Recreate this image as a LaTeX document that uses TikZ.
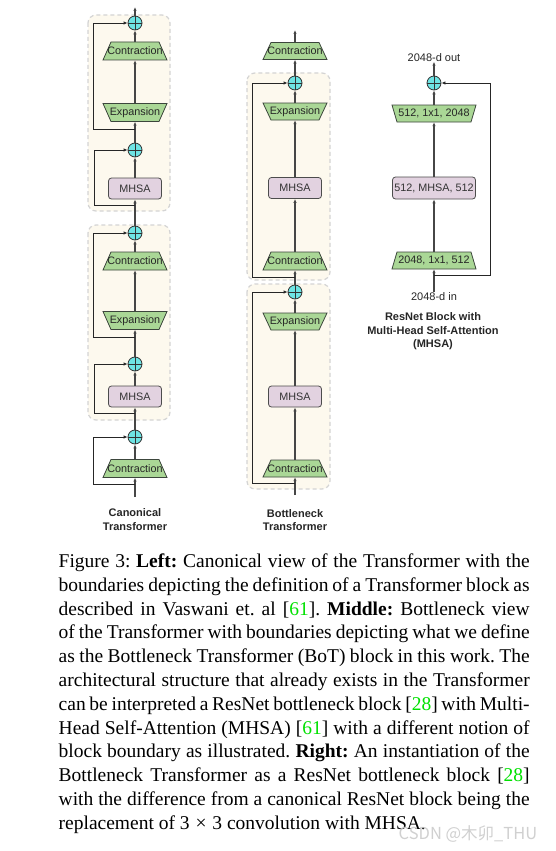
\documentclass[tikz,border=0pt]{standalone}
\usepackage{fontspec}
\setmainfont{Liberation Serif}
\setsansfont{Liberation Sans}
\newfontfamily\cjkfont{Noto Sans CJK SC}
\usetikzlibrary{arrows.meta,calc}
\frenchspacing
\definecolor{trapgreen}{RGB}{170,215,150}
\definecolor{trapedge}{RGB}{60,70,60}
\definecolor{mhsafill}{RGB}{226,210,224}
\definecolor{addfill}{RGB}{110,228,228}
\definecolor{blockfill}{RGB}{253,249,238}
\definecolor{blockedge}{RGB}{212,212,212}
\definecolor{citegreen}{RGB}{0,225,0}
\definecolor{linegray}{RGB}{70,70,70}
\definecolor{wmgray}{RGB}{200,200,200}
\tikzset{
  trapshape/.style={fill=trapgreen, draw=trapedge, line width=0.8pt},
  traptext/.style={rectangle, inner sep=0pt, font=\sffamily\fontsize{10.8}{12}\selectfont, text=black!85},
  mhsabox/.style={rectangle, rounded corners=3pt, fill=mhsafill, draw=black!70, line width=0.8pt, inner sep=0pt, font=\sffamily\fontsize{10.8}{12}\selectfont, text=black!80},
  addc/.style={circle, draw=black!80, fill=addfill, minimum size=14pt, inner sep=0pt, line width=0.8pt,
    path picture={\draw[black!80, line width=0.8pt] (path picture bounding box.north) -- (path picture bounding box.south) (path picture bounding box.west) -- (path picture bounding box.east);}},
  flow/.style={draw=linegray, line width=1.1pt, -{Latex[length=4pt,width=3.4pt]}},
  skipline/.style={draw=black!85, line width=0.9pt, -{Latex[length=4pt,width=3.4pt]}},
  blockbox/.style={fill=blockfill, draw=blockedge, line width=1.2pt, dash pattern=on 4pt off 3pt, rounded corners=8pt},
  lbl/.style={inner sep=0pt, align=center, font=\sffamily\bfseries\fontsize{11}{13.5}\selectfont, text=black!85},
  io/.style={inner sep=0pt, font=\sffamily\fontsize{11}{13}\selectfont, text=black!85},
  capline/.style={anchor=base west, inner sep=0pt, font=\fontsize{19.5}{23.8}\selectfont\frenchspacing},
}
% name, x, y, text, half bottom width, half top width, half height
\newcommand\Trap[7]{%
  \path[trapshape] (#2-#5,#3+#7) -- (#2+#5,#3+#7) -- (#2+#6,#3-#7) -- (#2-#6,#3-#7) -- cycle;
  \node[traptext, minimum width={2*max(#5,#6)*1pt}, minimum height={2*#7*1pt}] (#1) at (#2,#3) {#4};
}
\newcommand\cit[1]{[{\color{citegreen}#1}]}
\begin{document}
\begin{tikzpicture}[x=1pt,y=-1pt]
\useasboundingbox (0,0) rectangle (556,851);
\fill[white] (0,0) rectangle (556,851);
% ---------------- blocks
\draw[blockbox] (88,15) rectangle (170,211);
\draw[blockbox] (88,225) rectangle (170,420);
\draw[blockbox] (247,73) rectangle (330,280);
\draw[blockbox] (247,284) rectangle (330,489);

% ---------------- left column (canonical)
\Trap{lc1}{135}{51}{Contraction}{32}{24}{9}
\Trap{le1}{135}{112.5}{Expansion}{24}{32}{9}
\node[mhsabox, minimum width=53pt, minimum height=21pt] (lm1) at (135,188.5) {MHSA};
\Trap{lc2}{135}{261}{Contraction}{32}{24}{9}
\Trap{le2}{135}{320.5}{Expansion}{24}{32}{9}
\node[mhsabox, minimum width=53pt, minimum height=21pt] (lm2) at (135,396.5) {MHSA};
\Trap{lc3}{135}{468.5}{Contraction}{32}{24}{9}
\node[addc] (la1) at (135,23) {};
\node[addc] (la2) at (135,150) {};
\node[addc] (la3) at (135,233) {};
\node[addc] (la4) at (135,364) {};
\node[addc] (la5) at (135,437) {};
\coordinate (lin) at (135,497);
\coordinate (lout) at (135,7);
\coordinate (ls1) at (135,129);
\coordinate (ls2) at (135,205);
\coordinate (ls3) at (135,337);
\coordinate (ls4) at (135,413);
\coordinate (ls5) at (135,484);

\draw[flow] (lin) -- (lc3.south);
\draw[flow] (lc3.north) -- (la5.south);
\draw[flow] (la5.north) -- (lm2.south);
\draw[flow] (lm2.north) -- (la4.south);
\draw[flow] (la4.north) -- (le2.south);
\draw[flow] (le2.north) -- (lc2.south);
\draw[flow] (lc2.north) -- (la3.south);
\draw[flow] (la3.north) -- (lm1.south);
\draw[flow] (lm1.north) -- (la2.south);
\draw[flow] (la2.north) -- (le1.south);
\draw[flow] (le1.north) -- (lc1.south);
\draw[flow] (lc1.north) -- (la1.south);
\draw[flow] (la1.north) -- (lout);

\draw[skipline] (ls5) -- ++(-42,0) |- (la5);
\draw[skipline] (ls4) -- ++(-41,0) |- (la4);
\draw[skipline] (ls3) -- ++(-42,0) |- (la3);
\draw[skipline] (ls2) -- ++(-41,0) |- (la2);
\draw[skipline] (ls1) -- ++(-42,0) |- (la1);

\node[lbl] (llab) at (135,519.5) {Canonical\\Transformer};

% ---------------- middle column (bottleneck)
\Trap{mc1}{295}{51}{Contraction}{32}{24}{8.5}
\Trap{me1}{295}{111.5}{Expansion}{24}{32}{8.5}
\node[mhsabox, minimum width=53pt, minimum height=21pt] (mm1) at (295,188) {MHSA};
\Trap{mc2}{295}{261}{Contraction}{32}{24}{9}
\Trap{me2}{295}{321.5}{Expansion}{24}{32}{8.5}
\node[mhsabox, minimum width=53pt, minimum height=21pt] (mm2) at (295,396.5) {MHSA};
\Trap{mc3}{295}{468.5}{Contraction}{32}{24}{8.5}
\node[addc] (ma1) at (295,83) {};
\node[addc] (ma2) at (295,292) {};
\coordinate (min) at (295,495);
\coordinate (mout) at (295,30);
\coordinate (ms1) at (295,277);
\coordinate (ms2) at (295,483);

\draw[flow] (min) -- (mc3.south);
\draw[flow] (mc3.north) -- (mm2.south);
\draw[flow] (mm2.north) -- (me2.south);
\draw[flow] (me2.north) -- (ma2.south);
\draw[flow] (ma2.north) -- (mc2.south);
\draw[flow] (mc2.north) -- (mm1.south);
\draw[flow] (mm1.north) -- (me1.south);
\draw[flow] (me1.north) -- (ma1.south);
\draw[flow] (ma1.north) -- (mc1.south);
\draw[flow] (mc1.north) -- (mout);

\draw[skipline] (ms2) -- ++(-43,0) |- (ma2);
\draw[skipline] (ms1) -- ++(-43,0) |- (ma1);

\node[lbl] (mlab) at (295,520) {Bottleneck\\Transformer};

% ---------------- right column (ResNet block)
\node[addc] (ra) at (434,83) {};
\Trap{rt}{434}{113.5}{512, 1x1, 2048}{37}{42}{8.5}
\node[mhsabox, minimum width=83pt, minimum height=22pt] (rm) at (434,188) {512, MHSA, 512};
\Trap{rb}{434}{260.5}{2048, 1x1, 512}{42}{37}{8.5}
\node[io] (rin) at (434,296.5) {2048-d in};
\node[io] (rout) at (434,57.5) {2048-d out};
\coordinate (rs) at (434,275);

\draw[flow] (rin.north) -- (rb.south);
\draw[flow] (rb.north) -- (rm.south);
\draw[flow] (rm.north) -- (rt.south);
\draw[flow] (rt.north) -- (ra.south);
\draw[flow] (ra.north) -- (rout.south);
\draw[skipline] (rs) -- ++(56,0) |- (ra);

\node[lbl] (rlab) at (433,331.5) {ResNet Block with\\Multi-Head Self-Attention\\(MHSA)};

% ---------------- caption
\def\capw{471pt}
\node[capline] (cap1) at (58.5,567.5) {\hbox to \capw{Figure 3: \textbf{Left:} Canonical view of the Transformer with the}};
\node[capline] (cap2) at (58.5,591.3) {\hbox to \capw{boundaries depicting the definition of a Transformer block as}};
\node[capline] (cap3) at (58.5,615.1) {\hbox to \capw{described in Vaswani et.\ al \cit{61}. \textbf{Middle:} Bottleneck view}};
\node[capline] (cap4) at (58.5,638.9) {\hbox to \capw{of the Transformer with boundaries depicting what we define}};
\node[capline] (cap5) at (58.5,662.7) {\hbox to \capw{as the Bottleneck Transformer (BoT) block in this work. The}};
\node[capline] (cap6) at (58.5,686.5) {\hbox to \capw{architectural structure that already exists in the Transformer}};
\node[capline] (cap7) at (58.5,710.3) {\hbox to \capw{can be interpreted a ResNet bottleneck block \cit{28} with Multi-}};
\node[capline] (cap8) at (58.5,734.1) {\hbox to \capw{Head Self-Attention (MHSA) \cit{61} with a different notion of}};
\node[capline] (cap9) at (58.5,757.9) {\hbox to \capw{block boundary as illustrated. \textbf{Right:} An instantiation of the}};
\node[capline] (cap10) at (58.5,781.7) {\hbox to \capw{Bottleneck Transformer as a ResNet bottleneck block \cit{28}}};
\node[capline] (cap11) at (58.5,805.5) {\hbox to \capw{with the difference from a canonical ResNet block being the}};
\node[capline] (cap12) at (58.5,829.3) {replacement of 3\hspace{0.3em}×\hspace{0.3em}3 convolution with MHSA.};

\node[inner sep=0pt, text=wmgray, opacity=0.85, font=\cjkfont\fontsize{16.5}{18}\selectfont] (wm) at (468,834) {CSDN @木卯\_THU};
\end{tikzpicture}
\end{document}
